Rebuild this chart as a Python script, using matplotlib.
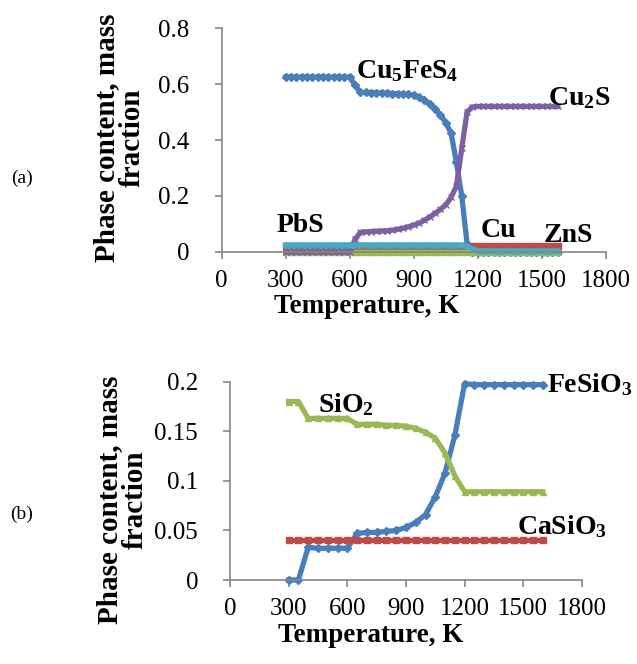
import matplotlib
matplotlib.use('Agg')
import matplotlib.pyplot as plt

plt.rcParams['font.family'] = ['Liberation Serif', 'DejaVu Serif']
plt.rcParams['mathtext.fontset'] = 'custom'
plt.rcParams['mathtext.rm'] = 'Liberation Serif'
plt.rcParams['mathtext.bf'] = 'Liberation Serif:bold'

# ---- panel (a) data, K and mass fraction ----
temp_a = [300, 325, 350, 375, 400, 425, 450, 475, 500, 525, 550, 575, 600,
          625, 650, 675, 700, 725, 750, 775, 800, 825, 850, 875, 900, 925,
          950, 975, 1000, 1025, 1050, 1075, 1100, 1125, 1150, 1175, 1200,
          1225, 1250, 1275, 1300, 1325, 1350, 1375, 1400, 1425, 1450, 1475,
          1500, 1525, 1550, 1575]
cu5fes4 = [0.625, 0.625, 0.625, 0.625, 0.625, 0.625, 0.625, 0.625, 0.625,
           0.625, 0.625, 0.625, 0.625,
           0.595, 0.570, 0.570, 0.569, 0.569, 0.568, 0.567, 0.566, 0.565,
           0.565, 0.563, 0.560, 0.553, 0.543, 0.528, 0.510, 0.490, 0.462,
           0.425, 0.320, 0.200, 0.030,
           0, 0, 0, 0, 0, 0, 0, 0, 0, 0, 0, 0, 0, 0, 0, 0, 0]
zns = [0.022, 0.022, 0.022, 0.022, 0.022, 0.022, 0.022, 0.022, 0.022, 0.022,
       0.022, 0.022, 0.022, 0.022, 0.022, 0.022, 0.022, 0.022, 0.022, 0.022,
       0.022, 0.022, 0.022, 0.022, 0.022, 0.022, 0.022, 0.022, 0.022, 0.022,
       0.022, 0.022, 0.022, 0.022, 0.022, 0.022, 0.022, 0.022, 0.022, 0.022,
       0.022, 0.022, 0.022, 0.022, 0.022, 0.022, 0.022, 0.022, 0.022, 0.022,
       0.022, 0.022]
cu = [0, 0, 0, 0, 0, 0, 0, 0, 0, 0, 0, 0, 0, 0, 0, 0, 0, 0, 0, 0, 0, 0, 0,
      0, 0, 0, 0, 0, 0, 0, 0, 0, 0, 0, 0, 0, 0, 0, 0, 0, 0, 0, 0, 0, 0, 0,
      0, 0, 0, 0, 0, 0]
cu2s = [0.0, 0.0, 0.0, 0.0, 0.0, 0.0, 0.0, 0.0, 0.0, 0.0, 0.0, 0.0, 0.0,
        0.045, 0.070, 0.072, 0.073, 0.074, 0.075, 0.076, 0.078, 0.081, 0.085,
        0.090, 0.096, 0.103, 0.113, 0.125, 0.138, 0.152, 0.168, 0.195, 0.235,
        0.370, 0.500,
        0.518, 0.520, 0.520, 0.520, 0.520, 0.520, 0.520, 0.520, 0.520, 0.520,
        0.520, 0.520, 0.520, 0.520, 0.520, 0.520, 0.520]
pbs = [0.025, 0.025, 0.025, 0.025, 0.025, 0.025, 0.025, 0.025, 0.025, 0.025,
       0.025, 0.025, 0.025, 0.025, 0.025, 0.025, 0.025, 0.025, 0.025, 0.025,
       0.025, 0.025, 0.025, 0.025, 0.025, 0.025, 0.025, 0.025, 0.025, 0.025,
       0.025, 0.025, 0.025, 0.024, 0.022, 0.012, 0.005, 0.004, 0.004, 0.004,
       0.004, 0.004, 0.004, 0.004, 0.004, 0.004, 0.004, 0.004, 0.004, 0.004,
       0.004, 0.004]

# ---- panel (b) data ----
temp_b = [300, 350, 400, 450, 500, 550, 600, 650, 700, 750, 800, 850, 900,
          950, 1000, 1050, 1100, 1150, 1200, 1250, 1300, 1350, 1400, 1450,
          1500, 1550, 1600]
fesio3 = [0, 0, 0.033, 0.032, 0.032, 0.032, 0.032, 0.047, 0.048, 0.048,
          0.049, 0.050, 0.053, 0.058, 0.066, 0.084, 0.108, 0.146, 0.198,
          0.197, 0.197, 0.197, 0.197, 0.197, 0.197, 0.197, 0.197]
casio3 = [0.040, 0.040, 0.040, 0.040, 0.040, 0.040, 0.040, 0.040, 0.040,
          0.040, 0.040, 0.040, 0.040, 0.040, 0.040, 0.040, 0.040, 0.040,
          0.040, 0.040, 0.040, 0.040, 0.040, 0.040, 0.040, 0.040, 0.040]
sio2 = [0.180, 0.180, 0.163, 0.163, 0.163, 0.163, 0.163, 0.157, 0.157, 0.157,
        0.156, 0.156, 0.155, 0.153, 0.149, 0.143, 0.128, 0.105, 0.089, 0.089,
        0.089, 0.089, 0.089, 0.089, 0.089, 0.089, 0.089]

xticks = [0, 300, 600, 900, 1200, 1500, 1800]
yticks_a = [0, 0.2, 0.4, 0.6, 0.8]
yticks_b = [0, 0.05, 0.1, 0.15, 0.2]

BLUE = '#4a7ebb'
RED = '#be4b48'
GREEN = '#98b954'
PURPLE = '#7d60a0'
CYAN = '#46aac5'
GRID = '#868686'

fig = plt.figure(figsize=(6.37, 6.64), dpi=100)
ax1 = fig.add_axes([0.348, 0.6205, 0.603, 0.3373])
ax2 = fig.add_axes([0.361, 0.1265, 0.5526, 0.2987])


def style(ax, yticks, ylabels, xlab_pos):
    ax.set_xlim(0, 1800)
    ax.set_xticks(xticks)
    ax.set_yticks(yticks)
    ax.set_yticklabels(ylabels)
    ax.set_ylim(yticks[0], yticks[-1])
    for s in ['top', 'right']:
        ax.spines[s].set_visible(False)
    for s in ['left', 'bottom']:
        ax.spines[s].set_color(GRID)
        ax.spines[s].set_linewidth(1.2)
    ax.tick_params(direction='out', length=5, width=1.2, color=GRID,
                   labelsize=18)
    ax.tick_params(axis='x', pad=8)
    ax.tick_params(axis='y', pad=18)
    ax.set_xlabel('Temperature, K', fontsize=19.5, fontweight='bold')
    ax.xaxis.label.set_va('center')
    ax.xaxis.set_label_coords(*xlab_pos)


lw = 3.8
ms = 4
ax1.plot(temp_a, cu5fes4, color=BLUE, lw=lw, marker='D', ms=ms, clip_on=False)
ax1.plot(temp_a, zns, color=RED, lw=lw, marker='s', ms=ms, clip_on=False)
ax1.plot(temp_a, cu, color=GREEN, lw=lw, marker='^', ms=ms, clip_on=False)
ax1.plot(temp_a, cu2s, color=PURPLE, lw=lw, marker='x', ms=ms + 1, mew=1, clip_on=False)
ax1.plot(temp_a, pbs, color=CYAN, lw=lw, marker='*', ms=ms + 1, clip_on=False)
style(ax1, yticks_a, ['0', '0.2', '0.4', '0.6', '0.8'], (0.378, -0.245))

ax2.plot(temp_b, fesio3, color=BLUE, lw=lw, marker='D', ms=ms, clip_on=False)
ax2.plot(temp_b, casio3, color=RED, lw=lw, marker='s', ms=ms, clip_on=False)
ax2.plot(temp_b, sio2, color=GREEN, lw=lw, marker='^', ms=ms, clip_on=False)
style(ax2, yticks_b, ['0', '0.05', '0.1', '0.15', '0.2'], (0.40, -0.278))

lab = dict(fontsize=20, ha='left', va='center')
ax1.text(630, 0.645, r'$\mathbf{Cu_5FeS_4}$', **lab)
ax1.text(1530, 0.55, r'$\mathbf{Cu_2S}$', **lab)
ax1.text(255, 0.095, 'PbS', fontweight='bold', **lab)
ax1.text(1215, 0.075, 'Cu', fontweight='bold', **lab)
ax1.text(1510, 0.058, 'ZnS', fontweight='bold', **lab)

ax2.text(1620, 0.197, r'$\mathbf{FeSiO_3}$', **lab)
ax2.text(450, 0.177, r'$\mathbf{SiO_2}$', **lab)
ax2.text(1470, 0.054, r'$\mathbf{CaSiO_3}$', **lab)

ylab = 'Phase content, mass\nfraction'
fig.text(0.187, 1 - 138 / 664, ylab, rotation=90, ha='center', va='center',
         fontsize=21, fontweight='bold', multialignment='center', linespacing=0.95)
fig.text(0.192, 1 - 500 / 664, ylab, rotation=90, ha='center', va='center',
         fontsize=21, fontweight='bold', multialignment='center', linespacing=0.95)
fig.text(0.034, 1 - 178 / 664, '(a)', fontsize=14, ha='center', va='center')
fig.text(0.034, 1 - 514 / 664, '(b)', fontsize=14, ha='center', va='center')

fig.savefig('out.png', dpi=100)
